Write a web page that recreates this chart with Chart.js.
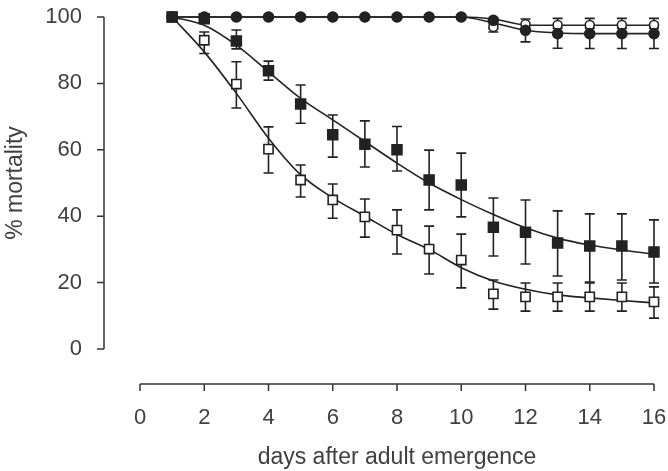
<!DOCTYPE html>
<html>
<head>
<meta charset="utf-8">
<script src="https://cdn.jsdelivr.net/npm/chart.js@4.4.0/dist/chart.umd.min.js"></script>
<style>
  html, body { margin: 0; padding: 0; background: #fff; }
  #wrap { width: 668px; height: 471px; position: relative; }
</style>
</head>
<body>
<div id="wrap"><canvas id="myChart"></canvas></div>
<script>
// days after adult emergence
var days = [1, 2, 3, 4, 5, 6, 7, 8, 9, 10, 11, 12, 13, 14, 15, 16];

// filled squares
var fSq   = [100, 99.5, 92.8, 83.8, 73.8, 64.5, 61.7, 60, 50.9, 49.4, 36.7, 35.2, 31.9, 31, 31, 29.2];
var fSqLo = [100, 99.5, 90.4, 81, 68, 57.8, 54.8, 53.6, 41.9, 39.8, 28, 25.6, 22, 20.2, 20.8, 19.9];
var fSqHi = [100, 99.5, 96.1, 86.7, 79.5, 70.5, 68.7, 67, 59.9, 59, 45.5, 44.9, 41.6, 40.7, 40.7, 38.9];
var fSqFit = [100, 97.5, 91.5, 83.5, 75.5, 69, 62.5, 56, 50, 45, 40.5, 36.5, 33.4, 31.3, 29.8, 28.6];

// open squares
var oSq   = [100, 93, 79.8, 60.2, 50.9, 44.9, 39.8, 35.8, 30.1, 26.8, 16.6, 15.7, 15.7, 15.7, 15.7, 14.2];
var oSqLo = [100, 89, 72.6, 53, 45.8, 39.4, 33.7, 28.6, 22.6, 18.4, 12, 11.4, 11.4, 11.4, 11.4, 9.3];
var oSqHi = [100, 95.5, 86.5, 66.9, 55.4, 49.7, 45.2, 41.9, 37, 34.6, 20.8, 19.9, 19.9, 19.9, 19.9, 18.7];
var oSqFit = [100, 89.5, 77, 63.5, 52.5, 45.5, 40, 34.5, 30, 24.5, 20.5, 18, 16.3, 15.4, 14.6, 13.9];

// filled circles
var fCi   = [100, 100, 100, 100, 100, 100, 100, 100, 100, 100, 99, 96, 95, 95, 95, 95];
var fCiLo = [100, 100, 100, 100, 100, 100, 100, 100, 100, 100, 96.5, 92.5, 90.6, 90.5, 90.5, 90.5];
var fCiHi = [100, 100, 100, 100, 100, 100, 100, 100, 100, 100, 99, 96, 95, 95, 95, 95];
var fCiFit = [100, 100, 100, 100, 100, 100, 100, 100, 100, 100, 98.2, 96, 95.2, 95, 95, 95];

// open circles
var oCi   = [100, 100, 100, 100, 100, 100, 100, 100, 100, 100, 97, 97.8, 97.6, 97.6, 97.6, 97.6];
var oCiLo = [100, 100, 100, 100, 100, 100, 100, 100, 100, 100, 95.5, 96.8, 96.6, 96.6, 96.6, 96.6];
var oCiHi = [100, 100, 100, 100, 100, 100, 100, 100, 100, 100, 98, 99.4, 99.6, 99.6, 99.6, 99.6];
var oCiFit = [100, 100, 100, 100, 100, 100, 100, 100, 100, 100, 99.4, 97.6, 97.5, 97.5, 97.5, 97.5];

var yTicks = [0, 20, 40, 60, 80, 100];
var xTicks = [0, 2, 4, 6, 8, 10, 12, 14, 16];

var ink = "#222";
var txt = "#404040";
var fam = "Liberation Sans, Arial, sans-serif";

function pts(vals) {
  var out = [];
  for (var i = 0; i < days.length; i++) {
    out.push({ x: days[i], y: vals[i] });
  }
  return out;
}

function fitLine(vals) {
  return {
    type: "line",
    data: pts(vals),
    borderColor: ink,
    borderWidth: 1.6,
    pointRadius: 0,
    cubicInterpolationMode: "monotone",
    fill: false,
    clip: false,
    order: 10
  };
}

function marks(vals, style, r, filled, ord) {
  return {
    type: "scatter",
    data: pts(vals),
    pointStyle: style,
    pointRadius: r,
    pointBackgroundColor: filled ? ink : "#fff",
    pointBorderColor: ink,
    pointBorderWidth: 1.6,
    showLine: false,
    clip: false,
    order: ord
  };
}

var errSets = [
  { lo: oCiLo, hi: oCiHi },
  { lo: fCiLo, hi: fCiHi },
  { lo: oSqLo, hi: oSqHi },
  { lo: fSqLo, hi: fSqHi }
];

var errorBars = {
  id: "errorBars",
  beforeDatasetsDraw: function (chart) {
    var ctx = chart.ctx;
    var xs = chart.scales.x;
    var ys = chart.scales.y;
    ctx.save();
    ctx.strokeStyle = ink;
    ctx.lineWidth = 1.6;
    for (var s = 0; s < errSets.length; s++) {
      var e = errSets[s];
      for (var i = 0; i < days.length; i++) {
        if (e.hi[i] - e.lo[i] < 0.01) continue;
        var px = xs.getPixelForValue(days[i]);
        var p1 = ys.getPixelForValue(e.lo[i]);
        var p2 = ys.getPixelForValue(e.hi[i]);
        ctx.beginPath();
        ctx.moveTo(px, p1); ctx.lineTo(px, p2);
        ctx.moveTo(px - 5, p1); ctx.lineTo(px + 5, p1);
        ctx.moveTo(px - 5, p2); ctx.lineTo(px + 5, p2);
        ctx.stroke();
      }
    }
    ctx.restore();
  }
};

// R style detached axes
var axesLines = {
  id: "axesLines",
  afterDraw: function (chart) {
    var ctx = chart.ctx;
    var xs = chart.scales.x;
    var ys = chart.scales.y;
    var ax = 104, ay = 384;
    ctx.save();
    ctx.strokeStyle = "#333";
    ctx.lineWidth = 1.5;
    ctx.beginPath();
    ctx.moveTo(ax, ys.getPixelForValue(0));
    ctx.lineTo(ax, ys.getPixelForValue(100));
    for (var i = 0; i < yTicks.length; i++) {
      var py = ys.getPixelForValue(yTicks[i]);
      ctx.moveTo(ax, py); ctx.lineTo(ax - 7, py);
    }
    ctx.moveTo(xs.getPixelForValue(0), ay);
    ctx.lineTo(xs.getPixelForValue(16), ay);
    for (var j = 0; j < xTicks.length; j++) {
      var px = xs.getPixelForValue(xTicks[j]);
      ctx.moveTo(px, ay); ctx.lineTo(px, ay + 7);
    }
    ctx.stroke();
    ctx.restore();
  }
};

var ctx = document.getElementById("myChart").getContext("2d");
var chart = new Chart(ctx, {
  data: {
    datasets: [
      fitLine(fSqFit),
      fitLine(oSqFit),
      fitLine(fCiFit),
      fitLine(oCiFit),
      marks(fSq, "rect", 7, true, 0),
      marks(oSq, "rect", 6.5, false, 1),
      marks(fCi, "circle", 5, true, 2),
      marks(oCi, "circle", 4.5, false, 3)
    ]
  },
  options: {
    responsive: true,
    maintainAspectRatio: false,
    animation: false,
    layout: { padding: { top: 17, right: 14, left: 0, bottom: 0 } },
    plugins: { legend: { display: false }, tooltip: { enabled: false } },
    scales: {
      x: {
        type: "linear",
        min: 0, max: 16,
        afterBuildTicks: function (s) { s.ticks = xTicks.map(function (v) { return { value: v }; }); },
        afterFit: function (s) { s.height = 122; s.paddingLeft = 0; s.paddingRight = 0; },
        grid: { display: false, drawTicks: false },
        border: { display: false },
        ticks: { padding: 56, color: txt, font: { family: fam, size: 22 }, maxRotation: 0 },
        title: { display: true, text: "days after adult emergence", color: txt, padding: { top: 0, bottom: 0 }, font: { family: fam, size: 23 } }
      },
      y: {
        type: "linear",
        min: 0, max: 100,
        afterBuildTicks: function (s) { s.ticks = yTicks.map(function (v) { return { value: v }; }); },
        afterFit: function (s) { s.width = 140; s.paddingTop = 0; s.paddingBottom = 0; },
        grid: { display: false, drawTicks: false },
        border: { display: false },
        ticks: { padding: 58, color: txt, font: { family: fam, size: 22 } },
        title: { display: true, text: "% mortality", color: txt, padding: { top: 2, bottom: 0 }, font: { family: fam, size: 23 } }
      }
    }
  },
  plugins: [errorBars, axesLines]
});
</script>
</body>
</html>
